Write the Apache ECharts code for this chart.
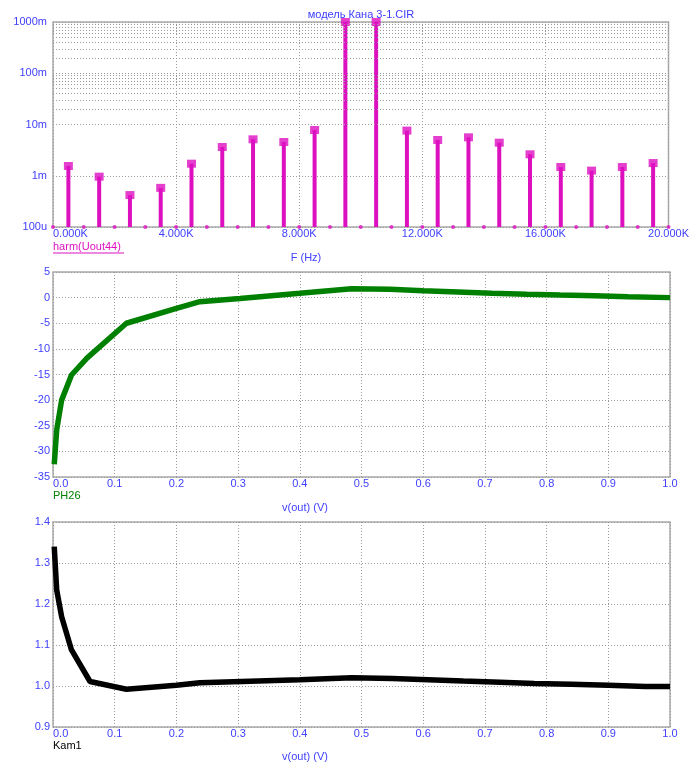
<!DOCTYPE html>
<html><head><meta charset="utf-8">
<script src="https://cdn.jsdelivr.net/npm/echarts@6/dist/echarts.min.js"></script>
<style>html,body{margin:0;padding:0;background:#fff}#c{width:692px;height:763px}</style>
</head><body><div id="c"></div>
<script>
// ---- data ----
const harmFreq = [500,1500,2500,3500,4500,5500,6500,7500,8500,9500,10500,11500,12500,13500,14500,15500,16500,17500,18500,19500];
const harmAmp = [0.00155,0.00096,0.00042,0.00058,0.00172,0.00364,0.00514,0.00456,0.0078,1.0,1.0,0.0076,0.00499,0.00562,0.00442,0.00262,0.00148,0.00126,0.00148,0.00177];
const zeroFreq = [0,1000,2000,3000,4000,5000,6000,7000,8000,9000,10000,11000,12000,13000,14000,15000,16000,17000,18000,19000,20000];
const zeroAmp = [0.0001,0.0001,0.0001,0.0001,0.0001,0.0001,0.0001,0.0001,0.0001,0.0001,0.0001,0.0001,0.0001,0.0001,0.0001,0.0001,0.0001,0.0001,0.0001,0.0001,0.0001];
const logTickValues = [0.0001,0.001,0.01,0.1,1];
const logTickLabels = ['100u','1m','10m','100m','1000m'];

const phX = [0.002,0.006,0.014,0.030,0.055,0.119,0.2,0.238,0.303,0.4,0.484,0.546,0.6,0.656,0.711,0.768,0.822,0.878,0.932,1.0];
const phY = [-32.5,-25.8,-20.0,-15.1,-11.8,-5.0,-2.1,-0.8,-0.15,0.84,1.75,1.63,1.36,1.1,0.84,0.65,0.51,0.38,0.18,0.0];

const kamX = [0.002,0.006,0.014,0.030,0.060,0.119,0.2,0.238,0.4,0.484,0.55,0.608,0.665,0.725,0.78,0.84,0.9,0.96,1.0];
const kamY = [1.34,1.234,1.169,1.088,1.011,0.992,1.002,1.008,1.015,1.020,1.018,1.015,1.012,1.009,1.006,1.004,1.002,0.999,0.999];

// ---- styling ----
const BLUE = '#4040ff';
const MAG = '#dd10c0';
const GREEN = '#008000';
const FONT = 'Liberation Sans, Arial, sans-serif';
const gridLine = {show:true, lineStyle:{color:'#9a9a9a', type:[1,2], width:1}};
const lbl = {color:BLUE, fontFamily:FONT, fontSize:11};

const minorLog = [];
for (let d = -4; d < 0; d++) for (let m = 2; m <= 9; m++) minorLog.push(+(m * Math.pow(10, d)).toPrecision(3));

const zip = (a, b) => a.map((v, i) => [v, b[i]]);

const chart = echarts.init(document.getElementById('c'), null, {renderer:'canvas'});
const grids = [
  {left:53, right:22, top:22, height:205, show:true, borderColor:'#aaaaaa', borderWidth:1.5},
  {left:53, right:22, top:272, height:205, show:true, borderColor:'#aaaaaa', borderWidth:1.5},
  {left:53, right:22, top:522, height:205, show:true, borderColor:'#aaaaaa', borderWidth:1.5}
];
const option = {
  animation:false,
  backgroundColor:'#fff',
  grid: grids,
  xAxis: [
    {gridIndex:0, type:'value', min:0, max:20000, interval:4000, axisLine:{show:false}, axisTick:{show:false}, splitLine:gridLine,
     axisLabel:Object.assign({margin:1, alignMinLabel:'left', formatter:v => (v/1000).toFixed(3)+'K'}, lbl)},
    {gridIndex:1, type:'value', min:0, max:1, interval:0.1, axisLine:{show:false}, axisTick:{show:false}, splitLine:gridLine,
     axisLabel:Object.assign({margin:1, alignMinLabel:'left', formatter:v => v.toFixed(1)}, lbl)},
    {gridIndex:2, type:'value', min:0, max:1, interval:0.1, axisLine:{show:false}, axisTick:{show:false}, splitLine:gridLine,
     axisLabel:Object.assign({margin:1, alignMinLabel:'left', formatter:v => v.toFixed(1)}, lbl)}
  ],
  yAxis: [
    {gridIndex:0, type:'log', logBase:10, min:0.0001, max:1, axisLine:{show:false}, axisTick:{show:false}, splitLine:gridLine,
     axisLabel:Object.assign({margin:6, formatter:v => { const i = logTickValues.findIndex(t => Math.abs(Math.log10(t) - Math.log10(v)) < 1e-6); return i >= 0 ? logTickLabels[i] : ''; }}, lbl)},
    {gridIndex:1, type:'value', min:-35, max:5, interval:5, axisLine:{show:false}, axisTick:{show:false}, splitLine:gridLine,
     axisLabel:Object.assign({margin:3}, lbl)},
    {gridIndex:2, type:'value', min:0.9, max:1.4, interval:0.1, axisLine:{show:false}, axisTick:{show:false}, splitLine:gridLine,
     axisLabel:Object.assign({margin:3, formatter:v => v.toFixed(1)}, lbl)}
  ],
  series: [
    {type:'line', xAxisIndex:0, yAxisIndex:0, data:[], silent:true,
     markLine:{silent:true, symbol:'none', label:{show:false}, lineStyle:{color:'#9a9a9a', type:[1,2], width:1},
       data: minorLog.map(v => ({yAxis:v}))}},
    {type:'custom', xAxisIndex:0, yAxisIndex:0, data:zip(harmFreq, harmAmp), clip:false,
     renderItem:(params, api) => {
       const top = api.coord([api.value(0), api.value(1)]);
       const base = api.coord([api.value(0), 0.0001]);
       return {type:'line', shape:{x1:top[0], y1:top[1], x2:base[0], y2:base[1]}, style:{stroke:MAG, lineWidth:4}};
     }},
    {type:'scatter', xAxisIndex:0, yAxisIndex:0, data:zip(harmFreq, harmAmp), symbol:'rect', symbolSize:[9,8], itemStyle:{color:MAG}, clip:false, silent:true},
    {type:'scatter', xAxisIndex:0, yAxisIndex:0, data:zip(zeroFreq, zeroAmp), symbol:'circle', symbolSize:4, itemStyle:{color:MAG}, clip:false, silent:true},
    {type:'line', xAxisIndex:1, yAxisIndex:1, data:zip(phX, phY), symbol:'none', lineStyle:{color:GREEN, width:5.5}, silent:true},
    {type:'line', xAxisIndex:2, yAxisIndex:2, data:zip(kamX, kamY), symbol:'none', lineStyle:{color:'#000', width:5.5}, silent:true}
  ],
  graphic: [
    {type:'text', x:361, y:15, style:{text:'модель Кана 3-1.CIR', fill:'#3c3cff', font:'11px '+FONT, align:'center', verticalAlign:'middle'}},
    {type:'text', x:53, y:247, style:{text:'harm(Uout44)', fill:MAG, font:'11px '+FONT, align:'left', verticalAlign:'middle'}},
    {type:'line', shape:{x1:53, y1:253, x2:124, y2:253}, style:{stroke:MAG, lineWidth:1}},
    {type:'text', x:306, y:258, style:{text:'F (Hz)', fill:BLUE, font:'11px '+FONT, align:'center', verticalAlign:'middle'}},
    {type:'text', x:53, y:496, style:{text:'PH26', fill:GREEN, font:'11px '+FONT, align:'left', verticalAlign:'middle'}},
    {type:'text', x:305, y:508, style:{text:'v(out) (V)', fill:BLUE, font:'11px '+FONT, align:'center', verticalAlign:'middle'}},
    {type:'text', x:53, y:746, style:{text:'Kam1', fill:'#000', font:'11px '+FONT, align:'left', verticalAlign:'middle'}},
    {type:'text', x:305, y:757, style:{text:'v(out) (V)', fill:BLUE, font:'11px '+FONT, align:'center', verticalAlign:'middle'}}
  ]
};
chart.setOption(option);
</script></body></html>
